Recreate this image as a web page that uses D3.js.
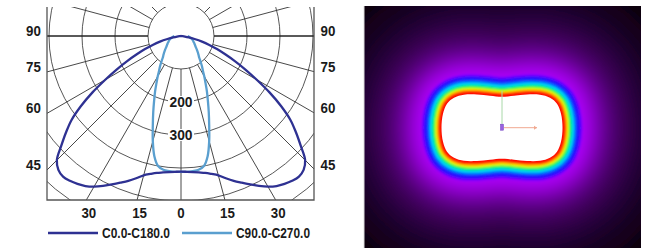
<!DOCTYPE html>
<html><head><meta charset="utf-8">
<script src="https://cdn.jsdelivr.net/npm/d3@7"></script>
<style>html,body{margin:0;padding:0;background:#fff;}svg{display:block}</style>
</head><body>
<svg id="c" width="665" height="248"></svg>
<script>
// ---------------- data ----------------
const gammaAngles = [0,2.5,5,7.5,10,12.5,15,17.5,20,22.5,25,27.5,30,32.5,35,37.5,40,42.5,45,47.5,50,52.5,55,57.5,60,62.5,65,67.5,70,72.5,75,77.5,80,82.5,85,87.5,90];
const c0c180 = [411,412,414,417,421,428,437,452,467,481,496,512,527,539,547,553,556,550,532,492,455,418,370,318,265,220,180,145,116,90,66,42,24,12,5,2,0];
const c90c270 = [412,412,411,409,400,373,330,284,246,213,186,161,141,123,110,97,86,79,73,67,62,57,53,50,47,45,42,40,38,36,34,31,28,26,24,22,20];
const seriesNames = ["C0.0-C180.0","C90.0-C270.0"];
const ringValues = [100,200,300,400,500,600];
const ringLabelValues = [200,300];
const sideTickAngles = [90,75,60,45];
const bottomTickAngles = [-30,-15,0,15,30];
const spokeAngles = d3.range(-165,180,15);

// false-colour illuminance image: outline of the brightest iso-zone (metres)
const isoOutline = [[0,-3.1],[1.2,-3.2],[2.5,-3.33],[3.8,-3.3],[4.8,-3.0],[5.5,-2.4],[5.9,-1.4],[6.05,0],[5.9,1.4],[5.5,2.4],[4.8,3.0],[3.8,3.3],[2.5,3.33],[1.2,3.2],[0,3.1],
  [-1.2,3.2],[-2.5,3.33],[-3.8,3.3],[-4.8,3.0],[-5.5,2.4],[-5.9,1.4],[-6.05,0],[-5.9,-1.4],[-5.5,-2.4],[-4.8,-3.0],[-3.8,-3.3],[-2.5,-3.33],[-1.2,-3.2]];
const glowBands = [[14,"#0a000f"],[11.5,"#13001d"],[9.5,"#1f002e"],[7.8,"#2e0044"],[6.3,"#42005f"],[5,"#5c0085"],[3.9,"#7c00b2"],[3.0,"#9c00de"],[2.3,"#b000ff"]];
const rainbowBands = [[2.0,"#7a00ff"],[1.8,"#2a10ff"],[1.5,"#1030ff"],[1.33,"#0080ff"],[1.15,"#00d8f0"],[0.92,"#00f060"],[0.7,"#a0ff00"],[0.57,"#ffee00"],[0.44,"#ff8000"],[0.3,"#ff0a00"]];

// ---------------- layout ----------------
const svg = d3.select("#c");
const cx = 181, cy = 36;
const frame = {left:47, right:314, top:7, bottom:200};
const r = d3.scaleLinear().domain([0,600]).range([0,198]);
const FONT = "'Liberation Sans',Arial,sans-serif";
const grid = "#333";
const colors = ["#2e3192","#5a9fcf"];

function label(parent, x, y, txt, size, anchor, sx){
  return parent.append("text").attr("transform",`translate(${x},${y}) scale(${sx},1)`)
    .attr("text-anchor",anchor).attr("font-family",FONT).attr("font-weight","bold")
    .attr("font-size",size).attr("fill","#1a1a1a").text(txt);
}

const defs = svg.append("defs");
defs.append("clipPath").attr("id","pclip").append("rect")
  .attr("x",frame.left).attr("y",frame.top).attr("width",frame.right-frame.left).attr("height",frame.bottom-frame.top);

const pg = svg.append("g").attr("clip-path","url(#pclip)");
const centre = pg.append("g").attr("transform",`translate(${cx},${cy})`);
centre.selectAll("circle.ring").data(ringValues).join("circle")
  .attr("r",d=>r(d)).attr("fill","none").attr("stroke","#444").attr("stroke-width",0.9);
const rad = a => a*Math.PI/180;
centre.selectAll("line.spoke").data(spokeAngles).join("line")
  .attr("x1",d=>r(100)*Math.sin(rad(d))).attr("y1",d=>r(100)*Math.cos(rad(d)))
  .attr("x2",d=>r(1200)*Math.sin(rad(d))).attr("y2",d=>r(1200)*Math.cos(rad(d)))
  .attr("stroke",grid).attr("stroke-width",0.9);
centre.selectAll("line.h").data([90,-90]).join("line")
  .attr("x1",d=>r(100)*Math.sin(rad(d))).attr("y1",0)
  .attr("x2",d=>r(1200)*Math.sin(rad(d))).attr("y2",0)
  .attr("stroke","#111").attr("stroke-width",1);

ringLabelValues.forEach(v=>{
  const w = 26, h = 12;
  centre.append("rect").attr("x",-w/2).attr("y",r(v)-h/2).attr("width",w).attr("height",h).attr("fill","#fff");
  label(centre, 0, r(v)+5.4, v, 15, "middle", 0.92);
});

const lineRad = d3.lineRadial().curve(d3.curveCatmullRom.alpha(0.5));
function curvePoints(vals){
  const pts = [];
  for(let i=gammaAngles.length-1;i>=0;i--) pts.push([Math.PI+rad(gammaAngles[i]), r(vals[i])]);
  for(let i=1;i<gammaAngles.length;i++) pts.push([Math.PI-rad(gammaAngles[i]), r(vals[i])]);
  return pts;
}
[c90c270,c0c180].forEach((vals,k)=>{
  centre.append("path").attr("d",lineRad(curvePoints(vals))).attr("fill","none")
    .attr("stroke",colors[1-k]).attr("stroke-width",2.3).attr("stroke-linejoin","round");
});

svg.append("path").attr("d",`M${frame.left},${frame.top}V${frame.bottom}H${frame.right}V${frame.top}`)
  .attr("fill","none").attr("stroke","#555").attr("stroke-width",1.3);

sideTickAngles.forEach(a=>{
  const y = a===90 ? cy : cy + (cx-frame.left)/Math.tan(rad(a));
  label(svg, 33.5, y, a, 14.8, "middle", 0.9);
  label(svg, 328, y, a, 14.8, "middle", 0.9);
});
bottomTickAngles.forEach(a=>{
  const x = cx + (frame.bottom-cy)*Math.tan(rad(a)) + (a===0?0:2.5);
  label(svg, x, 217.5, Math.abs(a), 14.8, "middle", 0.9);
});
const legX = [[48,98,102,68],[182,232,236,74]];
seriesNames.forEach((n,i)=>{
  svg.append("line").attr("x1",legX[i][0]).attr("x2",legX[i][1]).attr("y1",233).attr("y2",233)
    .attr("stroke",colors[i]).attr("stroke-width",2.5);
  svg.append("text").attr("x",legX[i][2]).attr("y",237.5).attr("font-family",FONT).attr("font-weight","bold")
    .attr("font-size",15.5).attr("fill","#1a1a1a").attr("textLength",legX[i][3]).attr("lengthAdjust","spacingAndGlyphs").text(n);
});

// ---------------- false colour panel ----------------
const img = {x:364,y:6,w:277,h:242};
const hx = d3.scaleLinear().domain([-1,1]).range([492,512]);
const hy = d3.scaleLinear().domain([-1,1]).range([117.7,137.7]);
const pxPerM = 10;
defs.append("clipPath").attr("id","hclip").append("rect").attr("x",img.x).attr("y",img.y).attr("width",img.w).attr("height",img.h);
function blurFilter(id, sd){
  const f = defs.append("filter").attr("id",id).attr("filterUnits","userSpaceOnUse")
    .attr("x",img.x-60).attr("y",img.y-60).attr("width",img.w+120).attr("height",img.h+120);
  f.append("feGaussianBlur").attr("stdDeviation",sd);
}
blurFilter("blurBig",8); blurFilter("blurSmall",1.0); blurFilter("blurTiny",0.6);

const hg = svg.append("g").attr("clip-path","url(#hclip)");
hg.append("rect").attr("x",img.x).attr("y",img.y).attr("width",img.w).attr("height",img.h).attr("fill","#07000a");
const shapeLine = d3.line().x(d=>hx(d[0])).y(d=>hy(d[1])).curve(d3.curveCatmullRomClosed.alpha(0.5));
const shapeD = shapeLine(isoOutline);
const gGlow = hg.append("g").attr("filter","url(#blurBig)");
gGlow.selectAll("path").data(glowBands).join("path").attr("d",shapeD)
  .attr("fill",d=>d[1]).attr("stroke",d=>d[1]).attr("stroke-width",d=>2*d[0]*pxPerM).attr("stroke-linejoin","round");
const gRain = hg.append("g").attr("filter","url(#blurSmall)");
gRain.selectAll("path").data(rainbowBands).join("path").attr("d",shapeD)
  .attr("fill",d=>d[1]).attr("stroke",d=>d[1]).attr("stroke-width",d=>2*d[0]*pxPerM).attr("stroke-linejoin","round");
hg.append("path").attr("d",shapeD).attr("fill","#fff").attr("filter","url(#blurTiny)");
hg.append("line").attr("x1",hx(0)).attr("x2",hx(0)).attr("y1",hy(-3.7)).attr("y2",hy(-0.3))
  .attr("stroke","#a8d8a8").attr("stroke-width",1);
hg.append("line").attr("x1",hx(0.2)).attr("x2",hx(3.5)).attr("y1",hy(0)).attr("y2",hy(0))
  .attr("stroke","#f0a890").attr("stroke-width",1);
hg.append("path").attr("d",`M${hx(3.5)},${hy(0)}l-3,-2v4z`).attr("fill","#f0a890");
hg.append("rect").attr("x",hx(-0.15)).attr("y",hy(-0.35)).attr("width",3).attr("height",6)
  .attr("fill","#9a60e0").attr("stroke","#7040c0").attr("stroke-width",0.5);
svg.append("line").attr("x1",img.x).attr("x2",img.x).attr("y1",img.y).attr("y2",img.y+img.h).attr("stroke","#ddd").attr("stroke-width",1);
</script>
</body></html>
